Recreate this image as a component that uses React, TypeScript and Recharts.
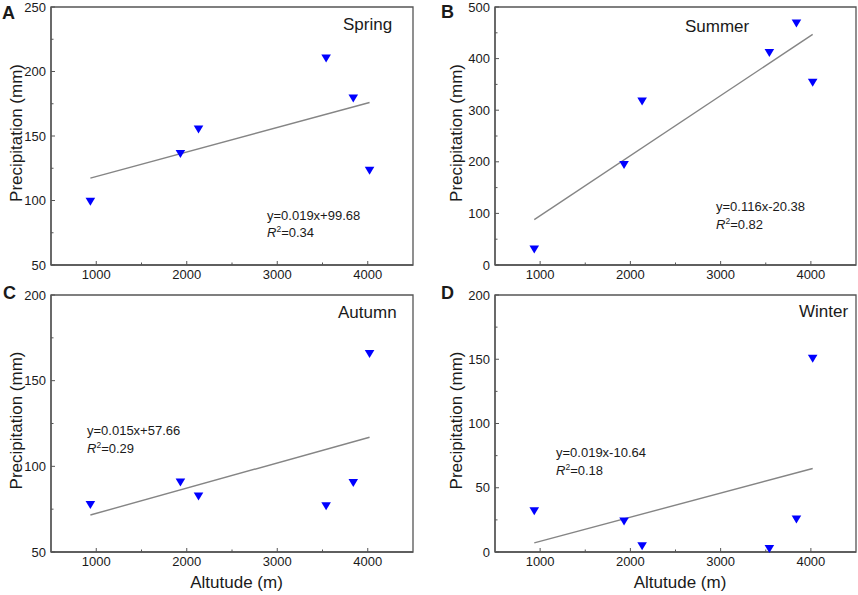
import React from 'react';
import { ScatterChart, Scatter, XAxis, YAxis, ReferenceLine, ReferenceArea, Label } from 'recharts';

// ---- data ----
const altitudes = [935, 1930, 2130, 3540, 3840, 4020];
const springValues = [99, 136, 155, 210, 179, 123];
const summerValues = [30, 194, 317, 411, 468, 353];
const autumnValues = [77.5, 90.6, 82.4, 76.7, 90.2, 165.5];
const winterValues = [31.7, 23.7, 4.4, 2.3, 25.2, 150.4];

const trendX = [935, 4020];
const springTrend = [117.4, 176];
const summerTrend = [88, 447];
const autumnTrend = [71.6, 117];
const winterTrend = [7.1, 65];

const xTicks = [1000, 1500, 2000, 2500, 3000, 3500, 4000];
const springYTicks = [50, 75, 100, 125, 150, 175, 200, 225, 250];
const summerYTicks = [0, 50, 100, 150, 200, 250, 300, 350, 400, 450, 500];
const autumnYTicks = [50, 75, 100, 125, 150, 175, 200];
const winterYTicks = [0, 25, 50, 75, 100, 125, 150, 175, 200];

const seasonNames = ['Spring', 'Summer', 'Autumn', 'Winter'];
const panelLetters = ['A', 'B', 'C', 'D'];
const equations = ['y=0.019x+99.68', 'y=0.116x-20.38', 'y=0.015x+57.66', 'y=0.019x-10.64'];
const r2Values = ['=0.34', '=0.82', '=0.29', '=0.18'];

const FONT = '"Liberation Sans", Arial, Helvetica, sans-serif';
const AXIS = '#555555';
const TXT = '#1a1a1a';

const toPoints = (vals: number[]) => altitudes.map((x, i) => ({ x, y: vals[i] }));

const DownTriangle = (props: any) => {
  const { cx, cy } = props;
  if (cx == null || cy == null) return null;
  return <path d={`M${cx - 4.8},${cy - 4} L${cx + 4.8},${cy - 4} L${cx},${cy + 4} Z`} fill="#0000ff" />;
};

const makeXTick = (margin: number) => (props: any) => {
  const { x, y, payload } = props;
  const v = payload.value;
  const major = v % 1000 === 0;
  const axisY = y - margin;
  return (
    <g>
      <line x1={x} x2={x} y1={axisY} y2={axisY - (major ? 4 : 2.5)} stroke={AXIS} strokeWidth={1} />
      {major && (
        <text x={x} y={y} dy="0.71em" textAnchor="middle" fontSize={13} fill={TXT} fontFamily={FONT}>
          {v}
        </text>
      )}
    </g>
  );
};

const makeYTick = (margin: number, step: number) => (props: any) => {
  const { x, y, payload } = props;
  const v = payload.value;
  const major = v % step === 0;
  const axisX = x + margin;
  return (
    <g>
      <line x1={axisX} x2={axisX + (major ? 4 : 2.5)} y1={y} y2={y} stroke={AXIS} strokeWidth={1} />
      {major && (
        <text x={x} y={y} dy="0.35em" textAnchor="end" fontSize={13} fill={TXT} fontFamily={FONT}>
          {v}
        </text>
      )}
    </g>
  );
};

const makeYLabel = (dx: number) => (props: any) => {
  const vb = props.viewBox || {};
  const cx = (vb.x || 0) + dx;
  const cy = (vb.y || 0) + (vb.height || 0) / 2 - 3;
  return (
    <text
      x={cx}
      y={cy}
      transform={`rotate(-90, ${cx}, ${cy})`}
      textAnchor="middle"
      dominantBaseline="central"
      fontSize={17}
      fill={TXT}
      fontFamily={FONT}
    >
      Precipitation (mm)
    </text>
  );
};

const xLabel = (props: any) => {
  const vb = props.viewBox || {};
  const cx = (vb.x || 0) + (vb.width || 0) / 2 + 4.5;
  const cy = (vb.y || 0) + 30;
  return (
    <text x={cx} y={cy} textAnchor="middle" dominantBaseline="central" fontSize={17} fill={TXT} fontFamily={FONT}>
      Altutude (m)
    </text>
  );
};

type PanelProps = {
  left: number;
  top: number;
  height: number;
  yAxisWidth: number;
  marginTop: number;
  marginRight: number;
  xAxisHeight: number;
  values: number[];
  trend: number[];
  yDomain: [number, number];
  yTicks: number[];
  yStep: number;
  yLabelDx: number;
  showXLabel: boolean;
};

const Panel = (p: PanelProps) => {
  const data = toPoints(p.values);
  return (
    <div style={{ position: 'absolute', left: p.left, top: p.top }}>
      <ScatterChart
        width={429}
        height={p.height}
        margin={{ top: p.marginTop, right: p.marginRight, bottom: 0, left: 0 }}
      >
        <XAxis
          type="number"
          dataKey="x"
          domain={[500, 4500]}
          ticks={xTicks}
          interval={0}
          height={p.xAxisHeight}
          axisLine={{ stroke: AXIS, strokeWidth: 1.3 }}
          tickLine={false}
          tickSize={0}
          tickMargin={5}
          tick={makeXTick(5)}
        >
          {p.showXLabel && <Label content={xLabel} />}
        </XAxis>
        <YAxis
          type="number"
          dataKey="y"
          domain={p.yDomain}
          ticks={p.yTicks}
          interval={0}
          width={p.yAxisWidth}
          axisLine={{ stroke: AXIS, strokeWidth: 1.3 }}
          tickLine={false}
          tickSize={0}
          tickMargin={5}
          tick={makeYTick(5, p.yStep)}
        >
          <Label content={makeYLabel(p.yLabelDx)} />
        </YAxis>
        <ReferenceArea
          x1={500}
          x2={4500}
          y1={p.yDomain[0]}
          y2={p.yDomain[1]}
          fill="none"
          fillOpacity={0}
          stroke={AXIS}
          strokeWidth={1.3}
        />
        <ReferenceLine
          segment={[
            { x: trendX[0], y: p.trend[0] },
            { x: trendX[1], y: p.trend[1] },
          ]}
          stroke="#858585"
          strokeWidth={1.4}
        />
        <Scatter data={data} shape={DownTriangle} isAnimationActive={false} />
      </ScatterChart>
    </div>
  );
};

const R2 = ({ x, y, value }: { x: number; y: number; value: string }) => (
  <text x={x} y={y} fontSize={13} fill={TXT} fontFamily={FONT}>
    <tspan fontStyle="italic">R</tspan>
    <tspan dy={-5} fontSize={8.5}>2</tspan>
    <tspan dy={5}>{value}</tspan>
  </text>
);

export default function App() {
  return (
    <div
      style={{
        position: 'absolute',
        left: 0,
        top: 0,
        width: 858,
        height: 595,
        background: '#ffffff',
        fontFamily: FONT,
        overflow: 'hidden',
      }}
    >
      <Panel
        left={0}
        top={0}
        height={292}
        yAxisWidth={51}
        marginTop={7}
        marginRight={16}
        xAxisHeight={27}
        values={springValues}
        trend={springTrend}
        yDomain={[50, 250]}
        yTicks={springYTicks}
        yStep={50}
        yLabelDx={16}
        showXLabel={false}
      />
      <Panel
        left={429}
        top={0}
        height={292}
        yAxisWidth={66}
        marginTop={7}
        marginRight={2}
        xAxisHeight={27}
        values={summerValues}
        trend={summerTrend}
        yDomain={[0, 500]}
        yTicks={summerYTicks}
        yStep={100}
        yLabelDx={27}
        showXLabel={false}
      />
      <Panel
        left={0}
        top={284}
        height={311}
        yAxisWidth={51}
        marginTop={11}
        marginRight={16}
        xAxisHeight={43}
        values={autumnValues}
        trend={autumnTrend}
        yDomain={[50, 200]}
        yTicks={autumnYTicks}
        yStep={50}
        yLabelDx={16}
        showXLabel={true}
      />
      <Panel
        left={429}
        top={284}
        height={311}
        yAxisWidth={66}
        marginTop={11}
        marginRight={2}
        xAxisHeight={43}
        values={winterValues}
        trend={winterTrend}
        yDomain={[0, 200]}
        yTicks={winterYTicks}
        yStep={50}
        yLabelDx={27}
        showXLabel={true}
      />
      <svg
        width={858}
        height={595}
        style={{ position: 'absolute', left: 0, top: 0, pointerEvents: 'none' }}
      >
        <g fontFamily={FONT} fill={TXT}>
          <text x={2} y={19} fontSize={18} fontWeight="bold">{panelLetters[0]}</text>
          <text x={441} y={18} fontSize={18} fontWeight="bold">{panelLetters[1]}</text>
          <text x={3} y={299} fontSize={18} fontWeight="bold">{panelLetters[2]}</text>
          <text x={441} y={299} fontSize={18} fontWeight="bold">{panelLetters[3]}</text>

          <text x={343} y={30} fontSize={17}>{seasonNames[0]}</text>
          <text x={685} y={31.5} fontSize={17}>{seasonNames[1]}</text>
          <text x={338} y={317.5} fontSize={17}>{seasonNames[2]}</text>
          <text x={799} y={316.5} fontSize={17}>{seasonNames[3]}</text>

          <text x={267} y={219.5} fontSize={13}>{equations[0]}</text>
          <text x={716} y={210.5} fontSize={13}>{equations[1]}</text>
          <text x={87} y={435} fontSize={13}>{equations[2]}</text>
          <text x={556} y={457} fontSize={13}>{equations[3]}</text>
        </g>
        <R2 x={267} y={237} value={r2Values[0]} />
        <R2 x={716} y={228.5} value={r2Values[1]} />
        <R2 x={87} y={453} value={r2Values[2]} />
        <R2 x={556} y={475} value={r2Values[3]} />
      </svg>
    </div>
  );
}
